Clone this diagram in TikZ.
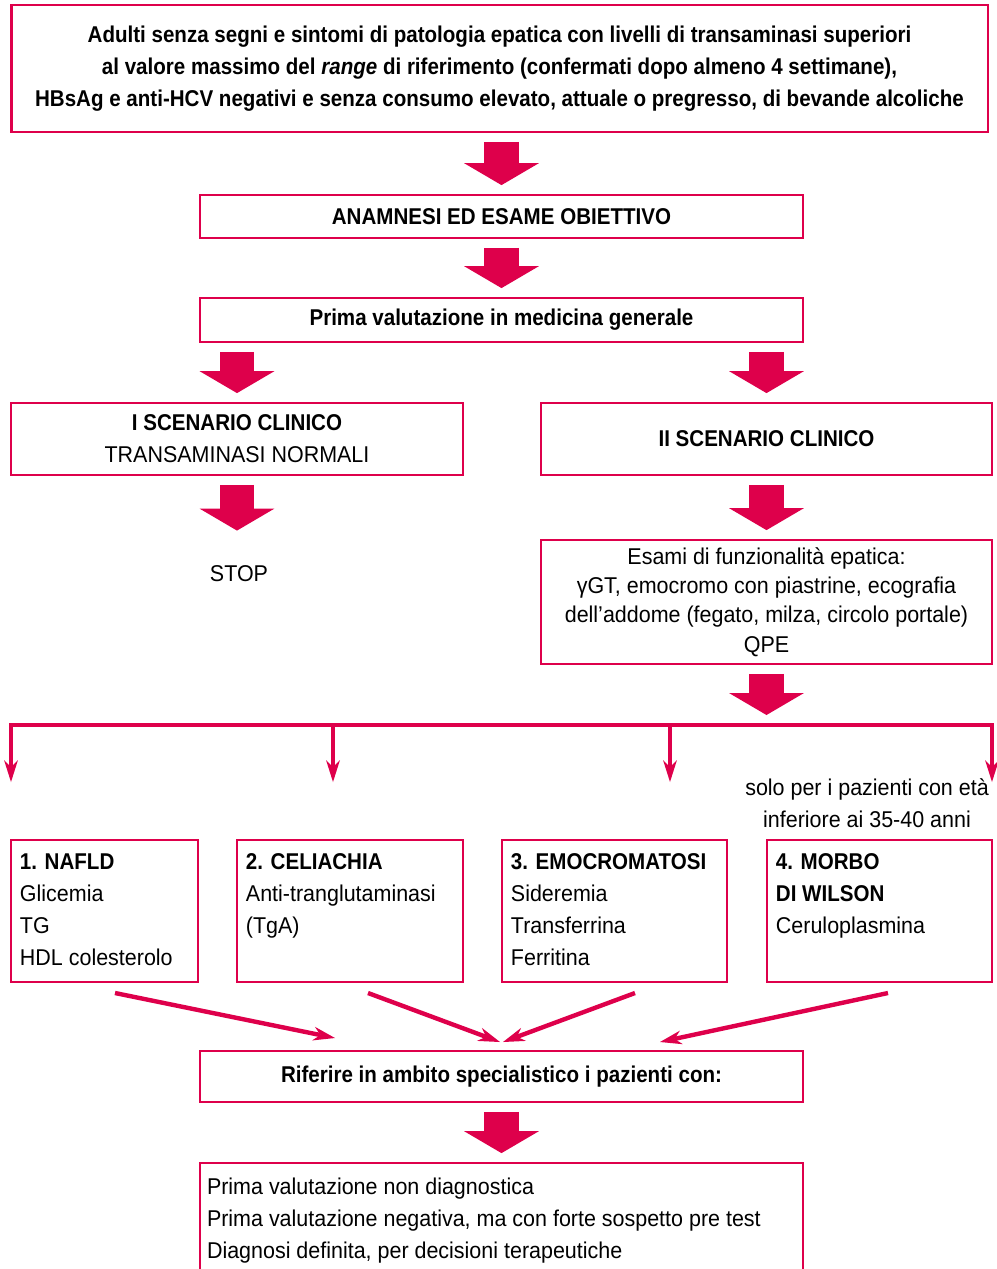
\documentclass[tikz,border=0pt]{standalone}
\usepackage{fontspec}
\setmainfont{Liberation Sans}[FakeStretch=0.94, BoldFeatures={FakeStretch=0.9}, BoldItalicFeatures={FakeStretch=0.9}]
\usetikzlibrary{arrows.meta}
\definecolor{crimson}{RGB}{222,0,75}

\tikzset{
  Fork/.tip={Stealth[length=0.44cm, width=0.28cm, line width=0pt 0 0]},
  box/.style={draw=crimson, line width=1.6pt, inner sep=0pt, align=center},
  bold/.style={font=\fontsize{13}{18.2}\selectfont\bfseries},
  intext/.style={anchor=north west, align=left, inner sep=0pt},
  fat/.style={crimson, line width=0.7cm, -{Triangle[width=1.5cm, length=0.44cm, line width=0pt 0 0]}, shorten <=0.17cm, shorten >=0.17cm},
  slim/.style={crimson, line width=2.5pt, -Fork},
}

\begin{document}
\begin{tikzpicture}[x=0.02cm, y=-0.02cm, font=\fontsize{13}{18.2}\selectfont]
\useasboundingbox (0,0) rectangle (997,1269);
\clip (0,0) rectangle (997,1269);

% boxes
\node[box, bold, minimum width=19.54cm, minimum height=2.54cm] (adulti) at (499.5,68.5)
  {Adulti senza segni e sintomi di patologia epatica con livelli di transaminasi superiori\\
   al valore massimo del \textit{range} di riferimento (confermati dopo almeno 4 settimane),\\
   HBsAg e anti-HCV negativi e senza consumo elevato, attuale o pregresso, di bevande alcoliche};
\node[box, bold, minimum width=12.06cm, minimum height=0.86cm] (anamnesi) at (501.5,216.5) {ANAMNESI ED ESAME OBIETTIVO};
\node[box, bold, minimum width=12.06cm, minimum height=0.88cm] (prima) at (501.5,320) {Prima valutazione in medicina generale};
\node[box, minimum width=9.04cm, minimum height=1.44cm] (scen1) at (237,439) {\textbf{I SCENARIO CLINICO}\\TRANSAMINASI NORMALI};
\node[box, bold, minimum width=9.02cm, minimum height=1.44cm] (scen2) at (766.5,439) {II SCENARIO CLINICO};
\node[inner sep=0pt] (stop) at (239,574) {STOP};
\node[box, minimum width=9.02cm, minimum height=2.48cm, font=\fontsize{13}{16.6}\selectfont] (esami) at (766.5,602)
  {Esami di funzionalità epatica:\\γGT, emocromo con piastrine, ecografia\\dell’addome (fegato, milza, circolo portale)\\QPE};
\node[align=center, inner sep=0pt] (eta) at (867,803) {solo per i pazienti con età\\inferiore ai 35-40 anni};

% the four work-ups
\node[box, minimum width=3.74cm, minimum height=2.84cm] (nafld) at (104.5,911) {};
\node[box, minimum width=4.52cm, minimum height=2.84cm] (celiachia) at (350,911) {};
\node[box, minimum width=4.5cm, minimum height=2.84cm] (emocromatosi) at (614.5,911) {};
\node[box, minimum width=4.5cm, minimum height=2.84cm] (wilson) at (879.5,911) {};
\node[intext] (nafldtxt) at ([shift={(0.2cm,-0.3cm)}]nafld.north west) {\textbf{1. NAFLD}\\Glicemia\\TG\\HDL colesterolo};
\node[intext] (celiachiatxt) at ([shift={(0.2cm,-0.3cm)}]celiachia.north west) {\textbf{2. CELIACHIA}\\Anti-tranglutaminasi\\(TgA)};
\node[intext] (emocromatositxt) at ([shift={(0.2cm,-0.3cm)}]emocromatosi.north west) {\textbf{3. EMOCROMATOSI}\\Sideremia\\Transferrina\\Ferritina};
\node[intext] (wilsontxt) at ([shift={(0.2cm,-0.3cm)}]wilson.north west) {\textbf{4. MORBO}\\\textbf{DI WILSON}\\Ceruloplasmina};

\node[box, bold, minimum width=12.06cm, minimum height=1.02cm] (riferire) at (501.5,1076.5) {Riferire in ambito specialistico i pazienti con:};
\node[box, minimum width=12.06cm, minimum height=2.74cm] (esiti) at (501.5,1231.5) {};
\node[intext] (esititxt) at ([shift={(0.16cm,-0.32cm)}]esiti.north west)
  {Prima valutazione non diagnostica\\Prima valutazione negativa, ma con forte sospetto pre test\\Diagnosi definita, per decisioni terapeutiche};

% block arrows
\draw[fat] (anamnesi.north |- adulti.south) -- (anamnesi.north);
\draw[fat] (anamnesi) -- (prima);
\draw[fat] (scen1.north |- prima.south) -- (scen1.north);
\draw[fat] (scen2.north |- prima.south) -- (scen2.north);
\draw[fat, shorten >=0.7cm] (scen1.south) -- (scen1.south |- stop.north);
\draw[fat] (scen2) -- (esami);
\coordinate (fork) at (766.5,725);
\draw[fat, shorten >=0.2cm] (esami.south) -- (fork);
\draw[fat] (riferire) -- (esiti);

% fork to the four work-ups
\coordinate (bar1) at (11,725);
\coordinate (bar4) at (992,725);
\coordinate (end1) at (11,782);
\coordinate (end4) at (992,782);
\draw[slim, Fork-Fork] (end1) -- (bar1) -- (bar4) -- (end4);
\foreach \x/\n in {333/2, 670/3} {
  \coordinate (bar\n) at (\x,725);
  \coordinate (end\n) at (\x,782);
  \draw[slim] (bar\n) -- (end\n);
}

% converging arrows
\coordinate (from1) at (115,993);
\coordinate (from2) at (368,993);
\coordinate (from3) at (635,993);
\coordinate (from4) at (888,993);
\coordinate (to1) at (335,1038);
\coordinate (to2) at (500,1042);
\coordinate (to3) at (503,1042);
\coordinate (to4) at (660,1042);
\foreach \n in {1,...,4}
  \draw[slim] (from\n) -- (to\n);
\end{tikzpicture}
\end{document}
